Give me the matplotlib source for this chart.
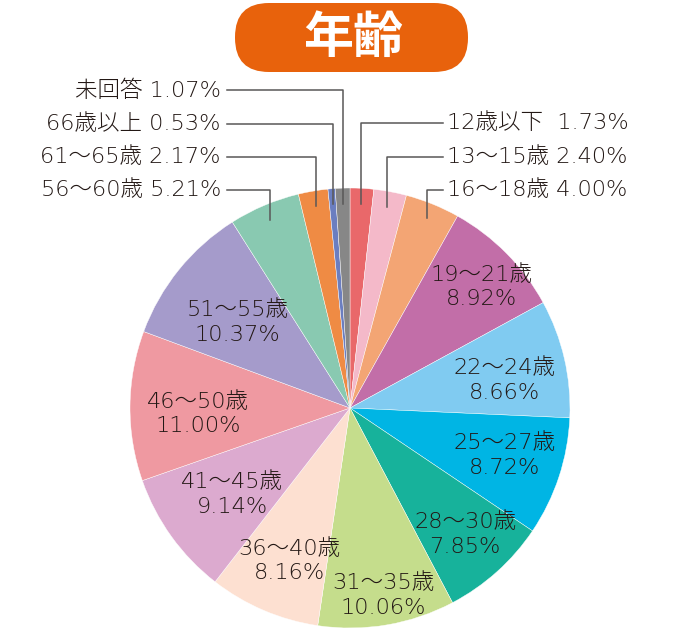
import numpy as np
import matplotlib.pyplot as plt
from matplotlib.patches import FancyBboxPatch

plt.rcParams['font.family'] = ['DejaVu Sans', 'Noto Sans CJK JP']

# slices, clockwise from 12 o'clock
ages = ['12歳以下', '13～15歳', '16～18歳', '19～21歳', '22～24歳', '25～27歳',
        '28～30歳', '31～35歳', '36～40歳', '41～45歳', '46～50歳', '51～55歳',
        '56～60歳', '61～65歳', '66歳以上', '未回答']
shares = [1.73, 2.40, 4.00, 8.92, 8.66, 8.72, 7.85, 10.06, 8.16, 9.14,
          11.00, 10.37, 5.21, 2.17, 0.53, 1.07]
colors = ['#e9686a', '#f4b9c9', '#f3a574', '#c26ea8', '#80cbf1', '#00b5e4',
          '#17b29b', '#c5dd8c', '#fde0d1', '#dcaacf', '#ef99a1', '#a59bcb',
          '#89c9b1', '#ef8b44', '#6b7ec0', '#878787']

txt_color = '#231815'
fs = 16.2
cx, cy, R = 350, 220, 220

fig = plt.figure(figsize=(7, 6.28), dpi=100)
ax = fig.add_axes([0, 0, 1, 1])

wedges, _ = ax.pie(shares, colors=colors, startangle=90, counterclock=False,
                   center=(cx, cy), radius=R,
                   wedgeprops=dict(edgecolor='white', linewidth=0.3))

def mid_point(w, frac):
    ang = np.deg2rad((w.theta1 + w.theta2) / 2)
    return cx + frac * R * np.cos(ang), cy + frac * R * np.sin(ang)

# labels inside the big slices: radius fraction and small vertical nudge
inside_r = {3: 0.83, 4: 0.71, 5: 0.73, 6: 0.77, 7: 0.84, 8: 0.72,
            9: 0.67, 10: 0.70, 11: 0.67}
nudge = {5: 10, 6: 7, 7: 2, 9: 7}
for i, fr in inside_r.items():
    x, y = mid_point(wedges[i], fr)
    ax.text(x + 2, y - 7 + nudge.get(i, 0), f'{ages[i]}\n{shares[i]:.2f}%',
            ha='center', va='center', fontsize=fs, color=txt_color,
            linespacing=1.3, fontweight='light')

# small slices with leader lines
right_rows = {0: 505, 1: 471, 2: 438}
left_rows = {15: 538, 14: 504, 13: 471, 12: 438}
for i, ty in list(right_rows.items()) + list(left_rows.items()):
    px, py = mid_point(wedges[i], 0.93)
    if i in right_rows:
        ax.plot([px, px, 443], [py, ty, ty], color='#595757', lw=1.1)
        sep = '  ' if i == 0 else ' '
        ax.text(447, ty, f'{ages[i]}{sep}{shares[i]:.2f}%', ha='left',
                va='center', fontsize=fs, color=txt_color, fontweight='light')
    else:
        ax.plot([px, px, 227], [py, ty, ty], color='#595757', lw=1.1)
        ax.text(221, ty, f'{ages[i]} {shares[i]:.2f}%', ha='right',
                va='center', fontsize=fs, color=txt_color, fontweight='light')

# title badge
badge = FancyBboxPatch((235, 556), 233, 69,
                       boxstyle='round,pad=0,rounding_size=34',
                       facecolor='#e8620c', edgecolor='none')
ax.add_patch(badge)
ax.text(353, 590, '年齢', ha='center', va='center', fontsize=36,
        fontweight='bold', color='white', family=['Noto Sans CJK JP'])

ax.set_xlim(0, 700)
ax.set_ylim(0, 628)
ax.set_aspect('equal')
ax.axis('off')

fig.savefig('out.png', dpi=100)
